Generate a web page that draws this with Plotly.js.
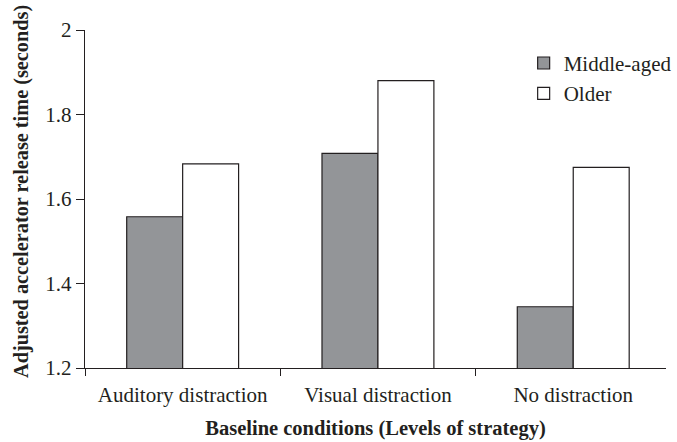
<!DOCTYPE html>
<html>
<head>
<meta charset="utf-8">
<script src="https://cdn.plot.ly/plotly-3.0.1.min.js"></script>
<style>html,body{margin:0;padding:0;background:#fff;}#chart{width:677px;height:442px;}</style>
</head>
<body>
<div id="chart"></div>
<script>
const categories = ["Auditory distraction", "Visual distraction", "No distraction"];
const middleAged = [1.558, 1.708, 1.345];
const older = [1.683, 1.880, 1.675];
const yTicks = [1.2, 1.4, 1.6, 1.8, 2];
const yTickText = ["1.2", "1.4", "1.6", "1.8", "2"];

const fontFam = "Liberation Serif, Times New Roman, serif";
const data = [
  {type: "bar", name: "Middle-aged", x: categories, y: middleAged,
   marker: {color: "#939598", line: {color: "#231f20", width: 1.2}}},
  {type: "bar", name: "Older", x: categories, y: older,
   marker: {color: "#ffffff", line: {color: "#231f20", width: 1.2}}}
];
const layout = {
  width: 677, height: 442,
  margin: {l: 85, r: 0, t: 30, b: 74},
  paper_bgcolor: "#fff", plot_bgcolor: "#fff",
  font: {family: fontFam, color: "#231f20", size: 21},
  barmode: "group", bargap: 0.427, bargroupgap: 0,
  showlegend: true,
  legend: {x: 0.755, y: 0.962, xanchor: "left", yanchor: "top", bgcolor: "rgba(0,0,0,0)",
           font: {family: fontFam, size: 21, color: "#231f20"}},
  xaxis: {type: "category", range: [-0.5, 2.475], showline: true, linecolor: "#231f20", linewidth: 1.2,
          ticks: "outside", tickson: "boundaries", ticklen: 7, tickcolor: "#231f20", tickwidth: 1,
          ticklabelstandoff: 8,
          showgrid: false, zeroline: false, fixedrange: true,
          tickfont: {family: fontFam, size: 21},
          title: {text: "<b>Baseline conditions (Levels of strategy)</b>", font: {family: fontFam, size: 20.5}, standoff: 14}},
  yaxis: {range: [1.2, 2], tickvals: yTicks, ticktext: yTickText, showline: true, linecolor: "#231f20", linewidth: 1.2,
          ticks: "outside", ticklen: 8, tickcolor: "#231f20", tickwidth: 1, showgrid: false, zeroline: false,
          tickfont: {family: fontFam, size: 21},
          title: {text: "<b>&nbsp;&nbsp;&nbsp;Adjusted accelerator release time (seconds)</b>", font: {family: fontFam, size: 20.3}, standoff: 11}}
};
Plotly.newPlot("chart", data, layout, {displayModeBar: false, staticPlot: true});
</script>
</body>
</html>
